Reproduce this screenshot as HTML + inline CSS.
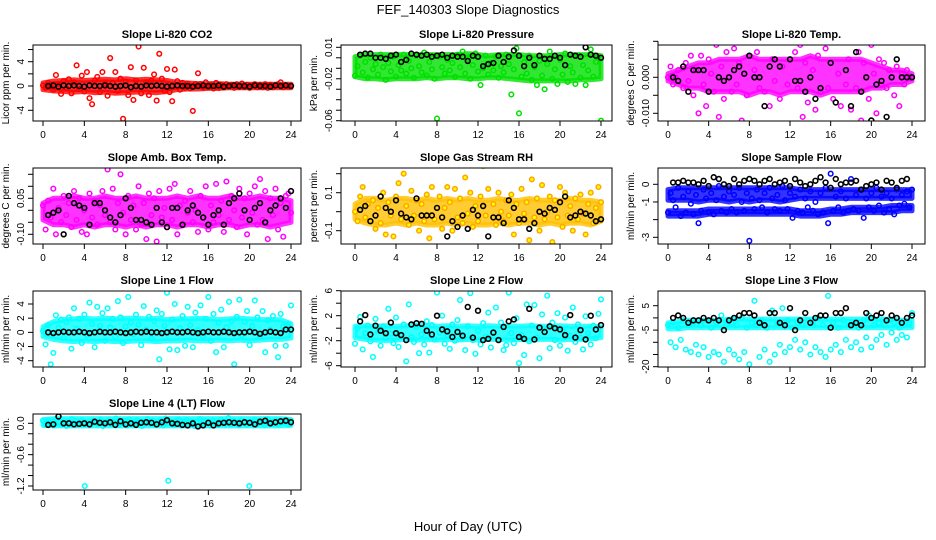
<!DOCTYPE html>
<html><head><meta charset="utf-8"><style>
body{margin:0;background:#fff;}
svg{display:block;font-family:"Liberation Sans",sans-serif;}
</style></head><body>
<svg id="chart" width="936" height="540" viewBox="0 0 936 540">
<text x="468" y="14" text-anchor="middle" font-size="13">FEF_140303  Slope Diagnostics</text>
<text x="468" y="531" text-anchor="middle" font-size="13">Hour of Day (UTC)</text>
</svg>
<script>
const xTicks = [0,4,8,12,16,20,24];

const co2Color = [0.1,-0.3,0.5,0.2,-0.6,1.8,0.3,-1.3,0.8,-0.4,1.1,-1.2,0.6,
3.4,-0.5,1.7,-0.9,2.3,-2.0,-3.0,0.9,1.5,-1.0,2.3,0.4,
-1.6,4.6,0.5,2.3,-0.8,1.2,-5.4,0.7,-1.5,3.1,-2.3,0.9,
6.5,-1.2,3.0,0.6,-1.5,0.9,1.9,-2.4,5.3,1.2,-0.8,2.8,
-1.0,-2.5,2.7,0.8,-0.6,0.5,-0.3,0.4,-0.4,-4.1,0.3,2.1,
0.3,-0.3,0.6,-0.2,0.2,-0.4,0.5,-0.3,0.2,-0.2,0.3,-0.1,
0.2,-0.3,0.3,-0.2,0.4,-0.2,0.2,-0.3,0.1,0.3,-0.2,0.2,
-0.2,0.3,-0.3,0.2,-0.2,0.1,0.3,0.6,-0.2,0.1,-0.1,0.0];
const co2Black = [0,0.1,-0.1,0.1,0,0.1,0,-0.1,0.1,0,0,0.1,0,-0.1,0,0.1,-0.2,0,-0.1,0.1,0,0.1,0,-0.1,0,0.1,0,0,-0.1,0,0.1,0,0,0.1,-0.1,0,0.1,0,0,-0.1,0.1,0,0,-0.1,0.1,0,0.1,0];
const co2BandLo = [-0.6,-0.8,-0.9,-1.0,-0.9,-1.1,-1.0,-1.2,-1.1,-1.0,-1.0,-1.1,-0.9,-0.6,-0.5,-0.5,-0.4,-0.4,-0.3,-0.3,-0.3,-0.3,-0.3,-0.3,-0.3];
const co2BandHi = [0.5,0.8,0.9,1.0,0.9,1.0,1.1,1.0,1.2,1.0,1.1,1.0,0.9,0.6,0.5,0.4,0.4,0.4,0.3,0.3,0.3,0.3,0.3,0.3,0.3];

const presColor = [-0.017,-0.008,0.002,-0.014,-0.004,-0.019,0.0,-0.011,-0.006,-0.016,0.003,-0.009,-0.021,
-0.005,-0.013,0.001,-0.018,-0.007,-0.012,0.003,-0.015,-0.003,-0.01,-0.019,0.002,
-0.008,-0.014,0.005,-0.017,-0.004,-0.011,-0.02,-0.058,0.001,-0.009,-0.015,-0.002,
-0.012,-0.005,-0.018,0.003,-0.009,0.006,-0.015,-0.001,-0.02,-0.007,0.004,-0.013,
-0.026,-0.01,0.002,-0.016,-0.005,-0.012,0.001,-0.019,-0.008,-0.014,0.003,-0.006,
-0.035,-0.011,0.009,-0.053,-0.018,-0.004,-0.015,0.002,-0.021,-0.009,-0.026,-0.003,
-0.017,-0.03,-0.006,0.006,-0.02,-0.011,-0.025,-0.002,-0.016,0.004,-0.023,-0.008,
-0.014,-0.025,0.002,-0.019,-0.007,-0.026,-0.012,0.008,-0.018,-0.004,0.001,-0.06];
const presBlack = [0.003,0.004,0.004,0.0,0.0,-0.001,0.002,0.003,-0.004,-0.002,0.004,0.003,0.002,0.003,0.001,0.002,0.003,0.0,0.002,0.001,0.001,-0.003,0.002,0.001,-0.008,-0.006,-0.005,0.002,-0.004,0.001,0.007,0.002,-0.008,0.0,-0.007,0.002,-0.001,-0.001,0.002,0.0,-0.007,0.003,0.002,0.001,0.01,0.003,0.002,0.0];
const presBandLo = [-0.018,-0.02,-0.02,-0.021,-0.02,-0.02,-0.02,-0.019,-0.02,-0.019,-0.019,-0.02,-0.02,-0.019,-0.019,-0.02,-0.021,-0.022,-0.022,-0.022,-0.022,-0.022,-0.021,-0.021,-0.02];
const presBandHi = [0.001,0.003,0.003,0.003,0.003,0.003,0.003,0.003,0.003,0.003,0.003,0.004,0.003,0.002,0.003,0.003,0.003,0.002,0.002,0.002,0.003,0.003,0.003,0.003,0.002];

const tempColor = [0.0,0.003,-0.002,0.0,0.002,0.014,-0.003,0.004,-0.001,0.006,-0.005,0.002,-0.01,
0.006,-0.002,-0.008,0.005,0.001,-0.004,0.009,-0.011,0.003,-0.006,0.007,0.0,
-0.004,0.008,-0.002,0.004,-0.012,0.01,-0.005,0.006,-0.014,0.002,0.007,-0.003,
0.01,-0.004,0.015,-0.008,0.005,-0.001,0.012,-0.006,0.003,0.016,-0.002,0.013,
-0.023,0.007,-0.003,0.009,-0.011,0.004,-0.007,0.011,0.002,-0.009,0.006,-0.004,
-0.02,0.008,-0.003,0.016,-0.006,0.01,0.001,-0.008,0.013,-0.002,0.005,-0.009,
0.017,-0.003,0.007,-0.012,0.004,0.014,-0.006,0.009,0.001,-0.01,0.005,-0.002,
0.004,-0.003,0.002,0.0,-0.005,0.003,-0.008,0.001,-0.002,0.002,0.0,0.0];
const tempBlack = [0.0,-0.001,0.003,-0.004,0.002,0.002,0.002,-0.004,0.011,0.0,-0.001,0.0,0.002,0.003,0.001,0.006,0.0,0.0,-0.008,0.003,0.005,0.003,0.011,0.005,-0.001,-0.001,-0.004,0.0,-0.006,-0.003,-0.015,0.004,-0.007,-0.019,0.002,-0.008,0.007,-0.004,0.0,-0.012,-0.002,-0.001,-0.011,0.0,0.005,0.0,0.0,0.0];
const tempBandLo = [-0.001,-0.002,-0.003,-0.003,-0.004,-0.004,-0.004,-0.004,-0.005,-0.004,-0.004,-0.005,-0.004,-0.004,-0.004,-0.005,-0.004,-0.004,-0.004,-0.004,-0.003,-0.003,-0.002,-0.002,-0.001];
const tempBandHi = [0.001,0.002,0.003,0.004,0.004,0.005,0.005,0.005,0.006,0.005,0.005,0.005,0.005,0.005,0.006,0.005,0.005,0.005,0.005,0.005,0.004,0.003,0.002,0.002,0.001];

const ambColor = [0.02,-0.08,0.04,-0.03,0.09,-0.1,0.01,-0.05,0.06,-0.02,0.03,-0.07,0.08,
-0.04,0.05,-0.09,0.0,-0.1,0.07,-0.03,0.04,-0.06,0.02,0.08,-0.02,
0.17,-0.05,0.09,-0.08,0.03,0.15,-0.01,-0.1,0.06,-0.04,0.02,-0.08,
0.1,-0.06,0.03,-0.12,0.07,-0.02,0.05,-0.13,0.08,-0.03,0.01,-0.07,
0.09,-0.04,0.11,-0.1,0.02,-0.06,0.04,-0.01,0.08,-0.05,0.0,-0.09,
0.06,-0.03,0.1,-0.08,0.02,-0.05,0.11,-0.02,0.04,-0.09,0.12,-0.04,
0.06,0.0,-0.07,0.09,-0.03,0.05,-0.1,0.07,-0.01,0.1,-0.06,0.13,
-0.04,0.08,-0.12,0.05,-0.02,0.09,-0.08,0.03,-0.11,0.06,0.07,-0.01];
const ambBlack = [-0.02,-0.01,0.0,-0.1,0.06,0.03,0.02,0.01,-0.06,0.03,0.03,0.0,-0.03,-0.05,-0.02,0.05,0.01,-0.04,-0.04,-0.05,-0.06,0.01,-0.05,-0.07,0.01,0.01,-0.06,0.0,0.02,-0.01,-0.03,-0.06,-0.02,0.0,-0.06,0.03,0.05,0.07,0.0,-0.04,0.01,0.03,-0.05,0.0,0.02,0.05,0.01,0.08];
const ambBandLo = [-0.04,-0.06,-0.06,-0.07,-0.06,-0.07,-0.06,-0.06,-0.07,-0.06,-0.07,-0.06,-0.06,-0.07,-0.06,-0.06,-0.07,-0.06,-0.06,-0.07,-0.06,-0.06,-0.07,-0.06,-0.05];
const ambBandHi = [0.03,0.05,0.05,0.06,0.05,0.05,0.06,0.05,0.05,0.06,0.05,0.05,0.05,0.06,0.05,0.06,0.05,0.05,0.06,0.05,0.05,0.06,0.05,0.05,0.04];

const rhColor = [0.0,-0.05,0.08,0.13,-0.03,0.04,-0.2,0.06,-0.09,0.02,-0.06,0.1,-0.12,
0.05,-0.02,-0.13,0.08,0.15,-0.04,0.2,0.03,-0.07,0.11,-0.02,0.06,
-0.1,0.04,-0.05,0.09,-0.14,0.13,-0.04,-0.19,0.08,-0.09,0.02,0.13,
0.05,-0.1,0.12,-0.03,0.07,-0.06,0.18,-0.01,0.1,-0.08,0.03,-0.05,
0.08,0.24,-0.02,0.12,-0.2,0.04,-0.07,0.1,0.0,-0.05,0.06,-0.02,
0.09,-0.12,0.04,-0.06,0.12,-0.01,0.05,-0.15,0.17,-0.03,0.07,-0.1,
0.14,-0.04,0.0,0.08,-0.16,0.06,-0.03,0.13,-0.08,0.1,-0.02,0.03,
-0.1,0.07,-0.04,0.09,-0.01,-0.12,0.04,0.1,-0.06,0.02,0.13,0.05];
const rhBlack = [0.01,0.03,-0.05,-0.02,0.08,0.02,0.0,0.06,-0.01,-0.03,-0.04,0.07,-0.02,-0.02,-0.02,0.02,-0.03,-0.13,-0.05,-0.08,-0.02,-0.09,0.01,-0.02,0.03,-0.13,-0.03,-0.03,-0.06,0.06,0.02,-0.04,-0.04,-0.09,-0.06,0.0,-0.01,0.02,0.01,0.05,0.08,-0.03,-0.02,0.0,-0.01,-0.02,-0.05,-0.04];
const rhBandLo = [-0.04,-0.06,-0.07,-0.07,-0.06,-0.07,-0.06,-0.07,-0.07,-0.06,-0.07,-0.06,-0.07,-0.07,-0.06,-0.07,-0.06,-0.06,-0.07,-0.06,-0.07,-0.06,-0.06,-0.07,-0.05];
const rhBandHi = [0.04,0.07,0.07,0.06,0.07,0.07,0.06,0.07,0.06,0.07,0.06,0.07,0.06,0.06,0.07,0.06,0.06,0.07,0.06,0.06,0.06,0.07,0.06,0.06,0.05];

const sampColor = [-1.6,-0.5,-0.9,-1.3,-0.2,-1.8,-0.7,-1.6,-0.4,-1.1,-1.7,-0.6,-2.2,
-1.5,-0.3,-0.8,-1.6,-0.5,-1.7,-0.9,-0.1,-1.5,-0.7,-1.6,-0.4,
-1.4,-0.6,-1.6,-0.2,-1.0,-1.5,-0.5,-3.2,-0.8,-1.4,-0.3,-0.9,
-1.3,-0.5,-1.6,-0.2,-0.8,-1.4,-0.6,-1.5,-0.1,-0.9,-1.4,-0.5,
-1.9,-0.7,-1.5,-0.3,-1.6,-0.8,-1.3,-0.4,-1.5,-1.0,-1.7,-0.5,
-1.6,-0.2,-2.2,0.6,-1.5,-0.7,-1.3,-0.4,-1.6,-0.8,-1.5,0.3,
-1.4,-0.6,-1.5,-0.3,-1.9,-0.8,-1.3,-0.5,-1.5,-0.2,-1.2,-0.7,
-1.6,-0.5,-1.4,-0.8,-1.7,-0.3,-1.2,-0.6,-1.1,-0.4,-1.3,-0.3];
const sampBlack = [0.1,0.1,0.2,0.1,0.1,0.0,0.2,-0.1,0.4,0.3,0.0,-0.1,0.3,0.0,0.2,0.3,0.2,0.0,0.2,0.3,0.0,0.1,0.2,-0.1,0.3,0.1,-0.1,0.0,0.2,0.4,0.1,-0.2,0.3,0.0,0.1,0.1,0.2,-0.3,-0.1,0.0,0.1,-0.3,0.2,0.1,-0.2,0.2,0.3,1.3];
const sampBandLo = [-0.9,-0.9,-0.9,-1.0,-0.9,-0.9,-1.0,-0.9,-1.0,-0.9,-0.9,-1.0,-0.9,-0.8,-0.8,-0.8,-0.8,-0.8,-0.8,-0.8,-0.8,-0.8,-0.8,-0.8,-0.8];
const sampBandHi = [-0.3,-0.2,-0.2,-0.2,-0.2,-0.2,-0.2,-0.2,-0.2,-0.2,-0.2,-0.2,-0.2,-0.3,-0.3,-0.3,-0.3,-0.3,-0.3,-0.3,-0.3,-0.3,-0.3,-0.3,-0.3];
const sampBand2Lo = [-1.8,-1.8,-1.8,-1.8,-1.7,-1.7,-1.7,-1.7,-1.7,-1.7,-1.7,-1.7,-1.7,-1.8,-1.8,-1.8,-1.7,-1.7,-1.6,-1.6,-1.6,-1.6,-1.6,-1.5,-1.5];
const sampBand2Hi = [-1.5,-1.5,-1.5,-1.5,-1.4,-1.4,-1.4,-1.4,-1.4,-1.4,-1.4,-1.4,-1.4,-1.5,-1.5,-1.5,-1.4,-1.4,-1.3,-1.3,-1.3,-1.3,-1.2,-1.2,-1.2];

const line1Color = [0.2,-1.7,1.0,-4.5,-2.9,2.4,0.6,1.8,-0.8,1.5,2.1,-2.3,3.4,
0.5,1.9,-1.5,2.5,-0.4,4.2,1.2,-2.1,3.6,0.9,2.7,-1.2,
3.4,0.7,1.9,-0.6,4.4,2.1,-1.5,0.8,5.0,1.4,-0.3,2.5,
1.1,-1.8,3.7,0.4,2.2,-0.9,1.6,3.1,-3.8,2.6,0.9,5.6,
-2.4,1.8,4.0,-2.5,0.6,2.3,-1.9,3.6,1.0,-2.1,2.8,0.3,
3.8,-0.5,1.9,5.0,-1.2,2.6,-2.8,1.4,3.2,-2.1,0.7,4.3,
1.6,-4.5,2.2,4.6,-0.4,1.5,3.0,-1.8,0.9,4.5,2.1,-0.6,
3.0,-2.8,1.7,0.4,2.3,-1.9,-3.5,2.6,0.8,-1.9,1.2,3.8];
const line1Black = [0,-0.1,0,0.1,0,0,0.1,0,-0.1,0,0.1,0,0,0.1,0,-0.1,0,0.1,0,0.1,0,0,-0.1,0,0.1,0,0,0.1,0,-0.1,0,0.1,0,0,0.1,0,-0.1,0,0,0.1,0,-0.2,0,0.1,0,-0.1,0.4,0.4];
const line1BandLo = [-0.6,-1.0,-1.2,-1.3,-1.2,-1.3,-1.2,-1.3,-1.3,-1.2,-1.2,-1.3,-1.2,-1.2,-1.1,-1.2,-1.2,-1.1,-1.2,-1.1,-1.2,-1.1,-1.0,-1.0,-0.8];
const line1BandHi = [0.8,1.5,1.8,1.9,2.0,1.9,2.0,1.9,2.0,2.0,1.9,2.0,1.8,1.9,1.9,2.0,1.9,1.8,1.9,2.0,1.9,1.8,1.8,1.8,1.2];

const line2Color = [-2.5,0.0,1.8,-3.4,-0.8,0.4,-2.1,-4.6,1.5,-0.5,-2.8,0.3,-1.6,
3.1,-0.9,-2.4,1.7,-3.0,-1.2,0.6,-5.3,3.8,-1.4,-2.2,0.2,
-4.0,-1.0,-2.6,1.1,-3.9,0.5,-1.8,5.7,-0.7,2.0,-2.5,-1.1,
-3.3,0.6,-2.0,1.3,4.5,-1.6,-3.5,0.3,5.6,-1.9,-4.1,-0.4,
-2.6,0.8,-1.4,2.5,-3.1,-0.6,3.3,-1.8,0.9,-3.5,-2.7,5.7,
-0.8,-2.4,1.6,-5.6,-1.1,-4.3,3.8,-2.1,0.4,3.7,-1.5,-4.8,
2.2,-0.7,5.2,-3.2,0.9,-1.9,2.4,-2.8,-0.3,1.7,-3.6,-1.2,
3.3,-2.2,0.6,-1.5,-3.4,1.9,-0.8,-2.6,0.4,-1.6,2.3,4.6];
const line2Black = [1.1,2.1,-1.0,0.4,-0.4,-0.8,0.9,-0.8,-1.1,-1.9,0.6,0.8,0.7,-0.4,-1.0,2.0,-0.2,-0.5,-1.4,-0.6,-1.2,3.4,-1.5,2.8,-1.9,-1.7,-0.7,-1.9,0.2,1.1,1.4,-1.4,-1.7,3.1,-1.8,0.1,-0.6,0.3,0.0,-0.2,-1.1,2.1,-1.5,-0.3,-1.8,2.0,-0.2,0.5];
const line2BandLo = [-1.5,-1.8,-1.9,-2.0,-1.9,-1.8,-1.9,-1.8,-1.9,-1.8,-1.9,-1.8,-1.9,-1.8,-1.8,-1.9,-1.8,-1.9,-1.8,-1.8,-1.9,-1.8,-1.8,-1.7,-1.5];
const line2BandHi = [0.3,0.4,0.3,0.4,0.3,0.4,0.5,0.4,0.3,0.4,0.3,0.4,0.3,0.4,0.3,0.4,0.3,0.4,0.3,0.3,0.4,0.3,0.3,0.3,0.2];

const line3Color = [-3,-10,-2,-12,-4,-9,-1,-13,-3,-14,-2,-11,-15,
-3,-12,-1,-16,-4,-14,-2,-15,1,-18,-3,-13,
-2,-15,-3,-17,0,-14,-4,-19,-2,7,-3,-16,
-1,-13,-4,-18,3,-15,-2,-11,4,-14,-1,-12,
-4,-9,-2,-13,-3,-10,-1,-15,-2,-12,0,-14,
-3,-16,9,-13,-2,-11,-4,-14,-1,-9,-3,-12,
-2,-10,-4,-13,-1,-8,1,-12,-3,-9,-2,-7,
-3,-11,-1,-6,-2,-9,-4,-7,-3,-8,-2,2];
const line3Black = [0,1,0,-2,-1,-1,0,-1,0,-1,-5,-1,0,1,2,2,1,-2,-3,2,2,-2,-3,4,-5,-1,2,-2,0,1,1,-4,2,2,4,-3,-2,-3,2,0,1,2,-1,1,0,-2,0,1];
const line3BandLo = [-4.5,-4.5,-4,-4,-4,-4,-4,-4,-4,-4,-4,-4,-4,-4,-4,-4,-4,-4,-4,-4,-4,-4,-4,-4,-4];
const line3BandHi = [-2,-1.5,-1,-1,-1,-1,-0.5,-0.5,-0.5,-0.5,-0.5,-0.5,-0.5,-0.5,-0.5,-0.5,-0.5,-0.5,-0.5,-0.5,-0.5,-0.5,-0.5,-1,-1];

const line4Color = [0.05,-0.03,0.06,0.0,-0.04,0.07,0.02,-0.02,0.05,-0.05,0.03,0.08,-0.01,0.04,-0.03,0.06,-1.2,0.02,-0.04,0.05,0.01,-0.02,0.07,-0.05,0.03,
0.06,-0.02,0.04,0.09,-0.03,0.02,0.05,-0.04,0.07,0.0,-0.02,0.06,0.03,-0.05,0.04,0.08,-0.01,0.05,-0.03,0.02,0.06,-0.04,0.09,-1.1,
0.03,-0.02,0.05,0.07,-0.04,0.02,0.06,-0.01,0.04,-0.05,0.03,0.08,-0.02,0.05,0.0,-0.04,0.06,0.02,-0.03,0.07,0.04,-0.01,0.1,-0.02,0.05,0.03,-0.04,0.06,0.01,-0.03,-1.2,
0.04,0.07,-0.02,0.05,0.02,-0.04,0.08,0.03,-0.01,0.06,-0.03,0.04,0.02,0.07,-0.02,0.05];
const line4Black = [-0.03,-0.02,0.13,0.0,0.0,-0.02,-0.01,0.0,-0.02,0.03,0.01,0.0,0.02,-0.03,0.04,-0.02,0.0,-0.03,0.01,0.02,0.01,-0.02,0.02,0.06,0.0,-0.01,-0.03,-0.04,0.0,-0.06,-0.04,0.01,-0.04,0.0,0.01,0.02,0.01,0.0,0.02,0.01,-0.02,0.03,0.05,0.0,0.02,0.04,0.05,0.02];
const line4BandLo = [-0.04,-0.05,-0.05,-0.05,-0.05,-0.05,-0.05,-0.05,-0.05,-0.05,-0.05,-0.05,-0.05,-0.05,-0.05,-0.05,-0.05,-0.05,-0.05,-0.05,-0.05,-0.05,-0.05,-0.05,-0.04];
const line4BandHi = [0.07,0.09,0.09,0.09,0.09,0.09,0.09,0.09,0.09,0.09,0.09,0.09,0.09,0.09,0.09,0.09,0.09,0.09,0.09,0.09,0.09,0.09,0.09,0.09,0.07];

const NS = 'http://www.w3.org/2000/svg';
const svg = document.getElementById('chart');
function mk(tag, attrs, parent){const e=document.createElementNS(NS,tag);for(const k in attrs)e.setAttribute(k,attrs[k]);(parent||svg).appendChild(e);return e;}

const cols = [{L:33,R:301,x0:43,x24:291},{L:341,R:612,x0:355,x24:601},{L:658,R:925,x0:668,x24:912}];
const rows = [{T:45,B:121},{T:168,B:244},{T:291,B:367},{T:414,B:490}];

const panels = [
 {name:'co2',title:'Slope Li-820 CO2',ylab:'Licor ppm per min.',c:0,r:0,cal:[0,86,4,61.7],ticks:[-4,-2,0,2,4,6],labels:[-4,0,4],fmt:v=>String(v),col:'#ff0000',data:co2Color,black:co2Black,bands:[[co2BandLo,co2BandHi]]},
 {name:'pressure',title:'Slope Li-820 Pressure',ylab:'kPa per min.',c:1,r:0,cal:[0.01,47.3,-0.06,120.7],ticks:[0.01,0,-0.01,-0.02,-0.03,-0.04,-0.05,-0.06],labels:[0.01,-0.02,-0.06],fmt:v=>v.toFixed(2),col:'#00e000',data:presColor,black:presBlack,bands:[[presBandLo,presBandHi]]},
 {name:'temp',title:'Slope Li-820 Temp.',ylab:'degrees C per min.',c:2,r:0,cal:[0,77.3,-0.01,113.3],ticks:[-0.01,-0.005,0,0.005,0.01],labels:[-0.01,0],fmt:v=>v.toFixed(3),col:'#ff00ff',data:tempColor,black:tempBlack,bands:[[tempBandLo,tempBandHi]]},
 {name:'amb-box-temp',title:'Slope Amb. Box Temp.',ylab:'degrees C per min.',c:0,r:1,cal:[0.05,198.3,-0.10,234.3],ticks:[-0.1,-0.05,0,0.05,0.1,0.15],labels:[-0.1,0.05],fmt:v=>v.toFixed(2),col:'#ff00ff',data:ambColor,black:ambBlack,bands:[[ambBandLo,ambBandHi]]},
 {name:'gas-rh',title:'Slope Gas Stream RH',ylab:'percent per min.',c:1,r:1,cal:[0.1,192.7,-0.1,230.7],ticks:[-0.1,0,0.1,0.2],labels:[-0.1,0.1],fmt:v=>v.toFixed(1),col:'#ffa500',data:rhColor,black:rhBlack,bands:[[rhBandLo,rhBandHi]]},
 {name:'sample-flow',title:'Slope Sample Flow',ylab:'ml/min per min.',c:2,r:1,cal:[0,184.3,-3,237.3],ticks:[0,-1,-2,-3],labels:[0,-1,-3],fmt:v=>String(v),col:'#0000ff',data:sampColor,black:sampBlack,bands:[[sampBandLo,sampBandHi],[sampBand2Lo,sampBand2Hi]]},
 {name:'line1-flow',title:'Slope Line 1 Flow',ylab:'ml/min per min.',c:0,r:2,cal:[4,304,-4,360.7],ticks:[-4,-2,0,2,4],labels:[-4,-2,0,2,4],fmt:v=>String(v),col:'#00ffff',data:line1Color,black:line1Black,bands:[[line1BandLo,line1BandHi]]},
 {name:'line2-flow',title:'Slope Line 2 Flow',ylab:'ml/min per min.',c:1,r:2,cal:[6,290.7,-6,365.7],ticks:[-6,-4,-2,0,2,4,6],labels:[-6,-2,2,6],fmt:v=>String(v),col:'#00ffff',data:line2Color,black:line2Black,bands:[[line2BandLo,line2BandHi]]},
 {name:'line3-flow',title:'Slope Line 3 Flow',ylab:'ml/min per min.',c:2,r:2,cal:[5,305.7,-20,366.7],ticks:[5,0,-5,-10,-15,-20],labels:[5,-5,-20],fmt:v=>String(v),col:'#00ffff',data:line3Color,black:line3Black,bands:[[line3BandLo,line3BandHi]]},
 {name:'line4-flow',title:'Slope Line 4 (LT) Flow',ylab:'ml/min per min.',c:0,r:3,cal:[0,423.3,-1.2,486],ticks:[0,-0.2,-0.4,-0.6,-0.8,-1,-1.2],labels:[0,-0.6,-1.2],fmt:v=>v.toFixed(1),col:'#00ffff',data:line4Color,black:line4Black,bands:[[line4BandLo,line4BandHi]]}
];

panels.forEach(p=>{
  const C=cols[p.c], R=rows[p.r];
  const xs=h=>C.x0+(h/24)*(C.x24-C.x0);
  const [v1,p1,v2,p2]=p.cal;
  const ys=v=>p1+(v-v1)*(p2-p1)/(v2-v1);
  const g=mk('g',{});
  
  
  const t=mk('text',{x:(C.L+C.R)/2,y:R.T-7,'text-anchor':'middle','font-size':11,'font-weight':'bold'},g);
  t.textContent=p.title;
  
  
  const yl=mk('text',{x:0,y:0,'text-anchor':'middle','font-size':10,transform:`translate(${C.L-24},${(R.T+R.B)/2}) rotate(-90)`},g);
  yl.textContent=p.ylab;
  
  
  const clip='clip-'+p.name;
  const cp=mk('clipPath',{id:clip},g); mk('rect',{x:C.L,y:R.T,width:C.R-C.L,height:R.B-R.T},cp);
  const pts=mk('g',{'clip-path':`url(#${clip})`},g);
  
  
  // dense point band (envelope of overlapping points)
  p.bands.forEach(([lo,hi])=>{
    const nb=lo.length;
    let d='';
    hi.forEach((v,i)=>{d+=(i?'L':'M')+xs(24*i/(nb-1)).toFixed(1)+','+ys(v).toFixed(1);});
    for(let i=nb-1;i>=0;i--) d+='L'+xs(24*i/(nb-1)).toFixed(1)+','+ys(lo[i]).toFixed(1);
    const b=mk('path',{d:d+'Z',fill:p.name==='gas-rh'?'#ffc000':p.col,stroke:p.name==='gas-rh'?'#ffc000':p.col,'stroke-width':5,'stroke-linejoin':'round','fill-opacity':0.8,'stroke-opacity':0.8},pts);
    
    
  });
  const n=p.data.length;
  p.data.forEach((v,i)=>{
    const c=mk('circle',{cx:xs(24*i/(n-1)),cy:ys(v),r:2.3,fill:p.name==='gas-rh'?'#ffff00':'none',stroke:p.col,'stroke-width':1.5},pts);
    
    
  });
  p.black.forEach((v,i)=>{
    const c=mk('circle',{cx:xs(0.5*(i+1)),cy:ys(v),r:2.4,fill:'none',stroke:'#000','stroke-width':1.6},pts);
    
    
  });
  const box=mk('rect',{x:C.L,y:R.T,width:C.R-C.L,height:R.B-R.T,fill:'none',stroke:'#000','stroke-width':1},g);
  
  
  const xa=mk('g',{},g);
  
  
  mk('line',{x1:xs(0),x2:xs(24),y1:R.B,y2:R.B,stroke:'#000'},xa);
  xTicks.forEach(h=>{
    mk('line',{x1:xs(h),x2:xs(h),y1:R.B,y2:R.B+5,stroke:'#000'},xa);
    const tl=mk('text',{x:xs(h),y:R.B+17,'text-anchor':'middle','font-size':10},xa);
    tl.textContent=h;
    
    
  });
  const ya=mk('g',{},g);
  
  
  const tys=p.ticks.map(ys);
  mk('line',{x1:C.L,x2:C.L,y1:Math.min(...tys),y2:Math.max(...tys),stroke:'#000'},ya);
  p.ticks.forEach(v=>mk('line',{x1:C.L-5,x2:C.L,y1:ys(v),y2:ys(v),stroke:'#000'},ya));
  p.labels.forEach(v=>{
    const tl=mk('text',{x:0,y:0,'text-anchor':'middle','font-size':10,transform:`translate(${C.L-9},${ys(v)}) rotate(-90)`},ya);
    tl.textContent=p.fmt(v);
    
    
  });
});
</script>
</body></html>
